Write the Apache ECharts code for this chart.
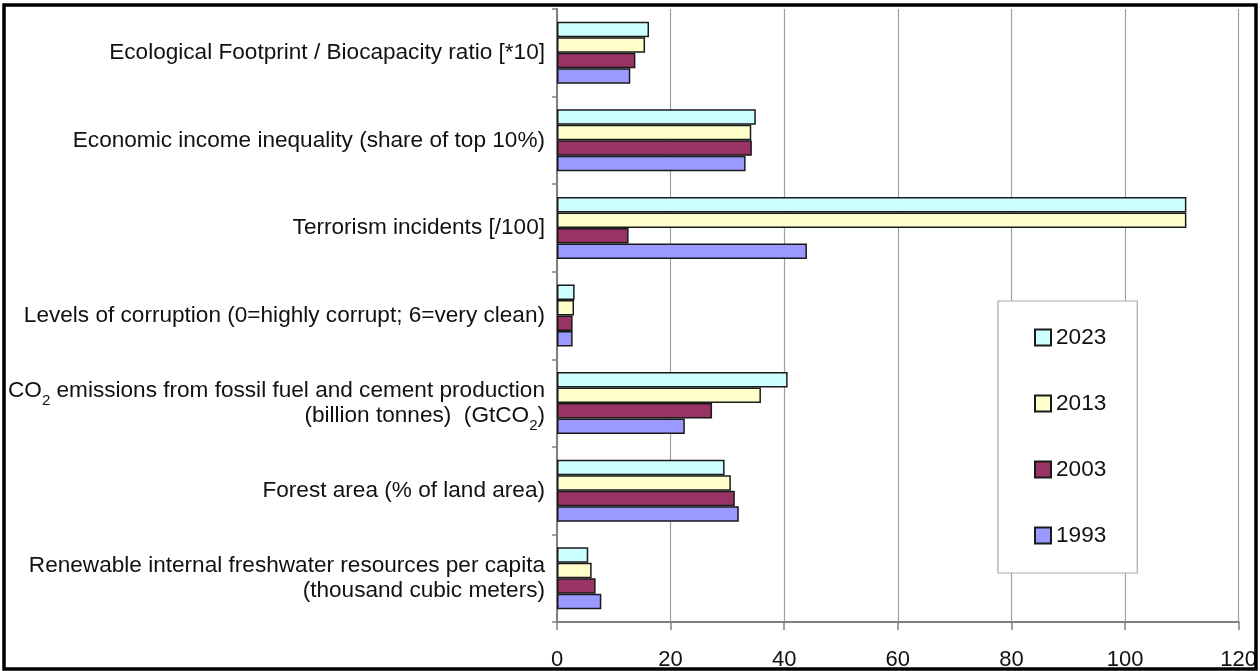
<!DOCTYPE html>
<html><head><meta charset="utf-8">
<script src="https://cdn.jsdelivr.net/npm/echarts@6/dist/echarts.min.js"></script>
<style>html,body{margin:0;padding:0;background:#fff}#c{width:1260px;height:671px}</style>
</head><body><div id="c"></div>
<script>
const categories = [
  'Ecological Footprint / Biocapacity ratio [*10]',
  'Economic income inequality (share of top 10%)',
  'Terrorism incidents [/100]',
  'Levels of corruption (0=highly corrupt; 6=very clean)',
  '{t|CO}{s|2}{t| emissions from fossil fuel and cement production}\n{t|(billion tonnes)  (GtCO}{s|2}{t|)}',
  'Forest area (% of land area)',
  'Renewable internal freshwater resources per capita\n(thousand cubic meters)'
];
const years = ['2023', '2013', '2003', '1993'];
const v2023 = [16.2, 35.0, 110.8, 3.1, 40.6, 29.5, 5.5];
const v2013 = [15.5, 34.2, 110.8, 3.0, 35.9, 30.6, 6.1];
const v2003 = [13.8, 34.3, 12.6, 2.75, 27.3, 31.3, 6.8];
const v1993 = [12.9, 33.2, 44.0, 2.75, 22.5, 32.0, 7.8];
const xMin = 0, xMax = 120, xStep = 20;

const seriesValues = [v2023, v2013, v2003, v1993];
const colors = ['#CCFFFF', '#FFFFCC', '#993366', '#9999FF'];
const FONT = '"Liberation Sans", Arial, sans-serif';
const FS = 22.6;

const chart = echarts.init(document.getElementById('c'));
chart.setOption({
  animation: false,
  backgroundColor: '#fff',
  grid: { left: 557, right: 19, top: 9, bottom: 46, containLabel: false },
  xAxis: {
    type: 'value', min: xMin, max: xMax, interval: xStep,
    axisLine: { show: true, lineStyle: { color: '#808080', width: 2 } },
    axisTick: { show: true, length: 8, lineStyle: { color: '#808080', width: 1.5 } },
    splitLine: { show: true, lineStyle: { color: '#a0a0a0', width: 1.2 } },
    axisLabel: { margin: 27, fontSize: 22, color: '#111', fontFamily: FONT }
  },
  yAxis: {
    type: 'category', inverse: true, data: categories,
    axisLine: { show: true, lineStyle: { color: '#808080', width: 2 } },
    axisTick: { show: true, length: 5, lineStyle: { color: '#808080', width: 1.5 } },
    axisLabel: {
      margin: 12, fontSize: FS, color: '#111', fontFamily: FONT, lineHeight: 25, align: 'right',
      rich: {
        t: { fontSize: FS, color: '#111', fontFamily: FONT, lineHeight: 25 },
        s: { fontSize: 15, color: '#111', fontFamily: FONT, lineHeight: 25, verticalAlign: 'bottom', padding: [0, 0, -5, 0] }
      }
    }
  },
  legend: {
    orient: 'vertical', left: 998, top: 301,
    data: years,
    itemWidth: 16, itemHeight: 16, itemGap: 43,
    icon: 'rect',
    padding: [25, 31, 26, 36],
    borderColor: '#aaa', borderWidth: 1.2, backgroundColor: '#fff',
    textStyle: { fontSize: FS, color: '#111', fontFamily: FONT }
  },
  series: years.map((y, i) => ({
    name: y, type: 'bar', data: seriesValues[i],
    barWidth: 15.5, barGap: '0%',
    itemStyle: { color: colors[i], borderColor: '#1a1a1a', borderWidth: 1.5 }
  })),
  graphic: [{
    type: 'rect', z: 100, silent: true,
    shape: { x: 4, y: 5, width: 1252, height: 664 },
    style: { fill: 'none', stroke: '#000', lineWidth: 3.5 }
  }]
});
</script></body></html>
